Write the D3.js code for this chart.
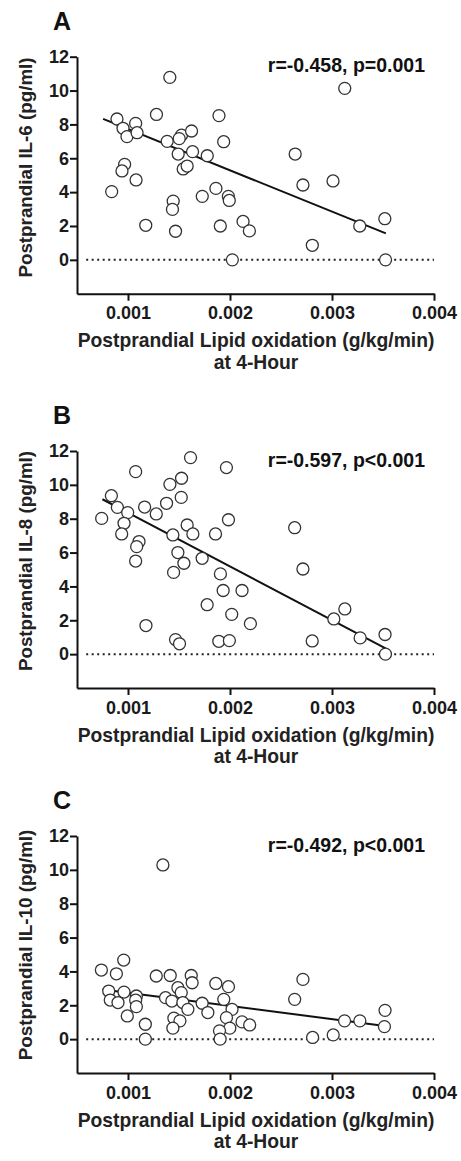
<!DOCTYPE html>
<html>
<head>
<meta charset="utf-8">
<script src="https://cdn.jsdelivr.net/npm/d3@7"></script>
<style>
  body { margin: 0; background: #fff; }
  svg { display: block; font-family: "Liberation Sans", Arial, sans-serif; }
</style>
</head>
<body>
<div id="chart"></div>
<script>
// Panel A: IL-6
const lipidA = [0.00141, 0.003125, 0.000892, 0.000951, 0.001075, 0.00099, 0.001089, 0.001279, 0.001892, 0.001384, 0.001525, 0.001502, 0.001623, 0.001938, 0.001492, 0.001633, 0.001777, 0.002639, 0.000967, 0.000941, 0.001541, 0.00158, 0.001079, 0.002715, 0.00301, 0.00084, 0.001443, 0.001436, 0.001728, 0.001862, 0.001984, 0.001993, 0.001174, 0.001466, 0.001905, 0.002128, 0.00219, 0.002807, 0.003272, 0.003518, 0.002023, 0.003525];
const il6 = [10.78, 10.13, 8.32, 7.77, 8.06, 7.28, 7.51, 8.59, 8.52, 7.0, 7.37, 7.16, 7.61, 6.98, 6.25, 6.39, 6.15, 6.25, 5.64, 5.25, 5.37, 5.54, 4.72, 4.42, 4.66, 4.03, 3.47, 2.98, 3.75, 4.22, 3.75, 3.51, 2.04, 1.69, 2.0, 2.27, 1.71, 0.86, 2.0, 2.43, 0.0, 0.0];

// Panel B: IL-8
const lipidB = [0.001613, 0.001965, 0.001075, 0.001411, 0.001525, 0.001522, 0.000837, 0.001378, 0.000896, 0.001163, 0.001277, 0.000997, 0.000742, 0.000961, 0.000938, 0.001985, 0.00158, 0.001636, 0.001858, 0.00144, 0.002634, 0.001108, 0.001085, 0.001489, 0.001075, 0.001727, 0.001548, 0.001447, 0.001906, 0.002715, 0.001933, 0.002118, 0.001776, 0.002017, 0.0022, 0.001176, 0.001466, 0.001505, 0.00189, 0.001994, 0.002806, 0.003018, 0.003126, 0.003276, 0.00352, 0.003524];
const il8 = [11.61, 11.02, 10.78, 10.03, 10.39, 9.26, 9.36, 8.91, 8.67, 8.69, 8.28, 8.36, 8.02, 7.73, 7.10, 7.94, 7.63, 7.10, 7.10, 7.04, 7.47, 6.65, 6.35, 6.0, 5.50, 5.66, 5.37, 4.83, 4.74, 5.03, 3.76, 3.76, 2.92, 2.35, 1.80, 1.69, 0.86, 0.61, 0.76, 0.80, 0.78, 2.08, 2.67, 0.96, 1.16, 0.0];

// Panel C: IL-10
const lipidC = [0.001342, 0.000739, 0.000958, 0.000886, 0.001277, 0.001414, 0.00162, 0.001629, 0.001861, 0.001985, 0.002715, 0.002634, 0.000811, 0.000961, 0.000826, 0.000902, 0.001082, 0.001075, 0.001082, 0.000993, 0.00117, 0.00117, 0.001368, 0.00143, 0.001489, 0.001522, 0.001538, 0.001587, 0.001727, 0.001783, 0.00145, 0.001509, 0.00144, 0.001939, 0.00202, 0.001965, 0.001998, 0.001897, 0.001903, 0.002118, 0.002193, 0.00281, 0.003012, 0.003123, 0.003273, 0.00352, 0.003514];
const il10 = [10.29, 4.08, 4.67, 3.86, 3.73, 3.76, 3.76, 3.33, 3.29, 3.10, 3.53, 2.35, 2.84, 2.78, 2.31, 2.16, 2.55, 2.31, 1.92, 1.37, 0.88, 0.0, 2.45, 2.25, 3.04, 2.75, 2.16, 1.76, 2.12, 1.57, 1.24, 1.08, 0.65, 2.35, 1.76, 1.27, 0.65, 0.49, 0.0, 1.02, 0.84, 0.1, 0.25, 1.08, 1.08, 1.70, 0.74];

// regression line end points
const fitA = [[0.000756, 8.33], [0.003528, 1.56]];
const fitB = [[0.000749, 9.15], [0.00353, 0.33]];
const fitC = [[0.000749, 2.93], [0.00352, 0.78]];

const panelLetters = ["A", "B", "C"];
const yTitles = ["Postprandial IL-6 (pg/ml)", "Postprandial IL-8 (pg/ml)", "Postprandial IL-10 (pg/ml)"];
const statLabels = ["r=-0.458, p=0.001", "r=-0.597, p<0.001", "r=-0.492, p<0.001"];
const xTicks = [0.001, 0.002, 0.003, 0.004];
const yTicks = [0, 2, 4, 6, 8, 10, 12];
const xTitle1 = "Postprandial Lipid oxidation (g/kg/min)";
const xTitle2 = "at 4-Hour";

const width = 461, height = 1161;
const svg = d3.select("#chart").append("svg")
  .attr("width", width)
  .attr("height", height);

const panels = [
  { top: 56.7, xs: lipidA, ys: il6, fit: fitA, titleY: 167.5 },
  { top: 451, xs: lipidB, ys: il8, fit: fitB, titleY: 561 },
  { top: 836, xs: lipidC, ys: il10, fit: fitC, titleY: 945 }
];

const plotH = 237;
const left = 77, right = 434;

panels.forEach((p, i) => {
  const x = d3.scaleLinear().domain([0.0005, 0.004]).range([left, right]);
  const y = d3.scaleLinear().domain([-2, 12]).range([p.top + plotH, p.top]);
  const g = svg.append("g");

  // dotted zero line
  g.append("line")
    .attr("x1", x(0.00059)).attr("x2", x(0.004))
    .attr("y1", y(0)).attr("y2", y(0))
    .attr("stroke", "#222")
    .attr("stroke-width", 2)
    .attr("stroke-dasharray", "2 3.5");

  // axes
  const xAxis = g.append("g")
    .attr("transform", `translate(0,${y(-2)})`)
    .call(d3.axisBottom(x).tickValues(xTicks).tickFormat(d3.format(".3f")).tickSize(7).tickSizeOuter(0));
  const yAxis = g.append("g")
    .attr("transform", `translate(${left},0)`)
    .call(d3.axisLeft(y).tickValues(yTicks).tickSize(7).tickSizeOuter(0));

  [xAxis, yAxis].forEach(a => {
    a.select(".domain").attr("stroke", "#111").attr("stroke-width", 2);
    a.selectAll(".tick line").attr("stroke", "#111").attr("stroke-width", 2);
    a.selectAll(".tick text")
      .attr("fill", "#1a1a1a")
      .style("font-size", "18px")
      .style("font-weight", "bold")
      .style("font-family", "'Liberation Sans', Arial, sans-serif");
  });
  xAxis.selectAll(".tick text").attr("y", 13).attr("dy", "0.71em");
  yAxis.selectAll(".tick text").attr("x", -8);

  // regression line
  g.append("path")
    .datum(p.fit)
    .attr("d", d3.line().x(d => x(d[0])).y(d => y(d[1])))
    .attr("fill", "none")
    .attr("stroke", "#111")
    .attr("stroke-width", 2);

  // points
  g.selectAll("circle")
    .data(p.xs.map((v, k) => [v, p.ys[k]]))
    .join("circle")
    .attr("cx", d => x(d[0]))
    .attr("cy", d => y(d[1]))
    .attr("r", 6)
    .attr("fill", "#fff")
    .attr("stroke", "#333")
    .attr("stroke-width", 1.3);

  // panel letter
  g.append("text")
    .attr("x", 53)
    .attr("y", p.top - 27)
    .style("font-size", "25px")
    .style("font-weight", "bold")
    .attr("fill", "#111")
    .text(panelLetters[i]);

  // r / p annotation
  g.append("text")
    .attr("x", 425)
    .attr("y", p.top + 15.5)
    .attr("text-anchor", "end")
    .style("font-size", "19.5px")
    .style("font-weight", "bold")
    .attr("fill", "#111")
    .text(statLabels[i]);

  // y title
  g.append("text")
    .attr("transform", `translate(32,${p.titleY}) rotate(-90)`)
    .attr("text-anchor", "middle")
    .style("font-size", "18.8px")
    .style("font-weight", "bold")
    .attr("fill", "#222")
    .text(yTitles[i]);

  // x title
  const xt = g.append("text")
    .attr("text-anchor", "middle")
    .style("font-size", "19.3px")
    .style("font-weight", "bold")
    .attr("fill", "#222");
  xt.append("tspan").attr("x", 256).attr("y", y(-2) + 53.5).text(xTitle1);
  xt.append("tspan").attr("x", 256).attr("y", y(-2) + 75).text(xTitle2);
});
</script>
</body>
</html>
